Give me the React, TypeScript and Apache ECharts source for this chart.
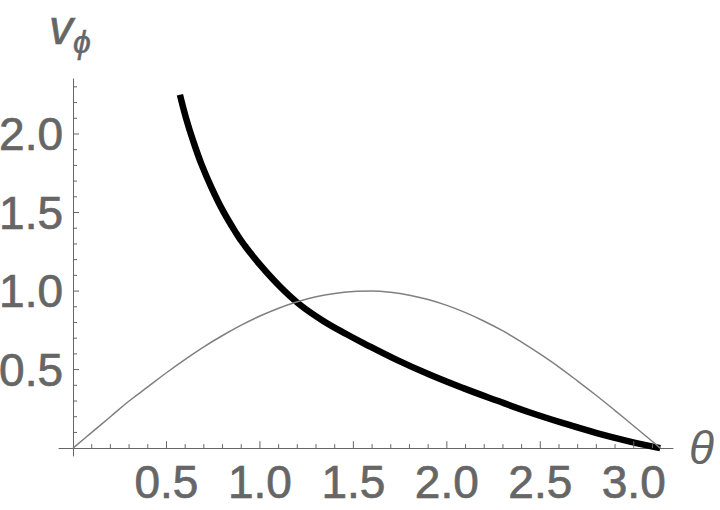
import React, { useEffect, useRef } from "react";
import * as echarts from "echarts";

// thin gray curve
const grayTheta = [0, 0.1, 0.2, 0.3, 0.4, 0.5, 0.6, 0.7, 0.8, 0.9, 1.0, 1.1, 1.2, 1.3, 1.4, 1.5, 1.6, 1.7, 1.8, 1.9, 2.0, 2.1, 2.2, 2.3, 2.4, 2.5, 2.6, 2.7, 2.8, 2.9, 3.0, 3.1, 3.1416];
const grayValues = [0, 0.1, 0.2, 0.3, 0.39, 0.48, 0.565, 0.645, 0.717, 0.783, 0.841, 0.891, 0.932, 0.964, 0.985, 0.997, 1.0, 0.992, 0.974, 0.946, 0.909, 0.863, 0.808, 0.746, 0.675, 0.598, 0.516, 0.427, 0.335, 0.239, 0.141, 0.042, 0];

// thick black curve
const blackTheta = [0.572, 0.605, 0.643, 0.688, 0.742, 0.804, 0.875, 0.911, 1.0, 1.107, 1.214, 1.339, 1.464, 1.553, 1.732, 1.91, 2.088, 2.267, 2.445, 2.623, 2.802, 2.98, 3.1416];
const blackValues = [2.25, 2.1, 1.955, 1.805, 1.656, 1.507, 1.365, 1.302, 1.168, 1.029, 0.913, 0.81, 0.725, 0.669, 0.562, 0.467, 0.382, 0.303, 0.227, 0.159, 0.096, 0.042, 0];

// ticks
const xMajorTicks = [0.5, 1.0, 1.5, 2.0, 2.5, 3.0];
const xTickLabels = ["0.5", "1.0", "1.5", "2.0", "2.5", "3.0"];
const xMinorTicks = [0.1, 0.2, 0.3, 0.4, 0.6, 0.7, 0.8, 0.9, 1.1, 1.2, 1.3, 1.4, 1.6, 1.7, 1.8, 1.9, 2.1, 2.2, 2.3, 2.4, 2.6, 2.7, 2.8, 2.9, 3.1];
const yMajorTicks = [0.5, 1.0, 1.5, 2.0];
const yTickLabels = ["0.5", "1.0", "1.5", "2.0"];
const yMinorTicks = [0.1, 0.2, 0.3, 0.4, 0.6, 0.7, 0.8, 0.9, 1.1, 1.2, 1.3, 1.4, 1.6, 1.7, 1.8, 1.9, 2.1, 2.2, 2.3];

const X_MIN = -0.075;
const X_MAX = 3.21;
const Y_MIN = -0.05;
const Y_MAX = 2.35;

const GRAY = "#666666";
const FONT = "'Liberation Sans', Arial, sans-serif";
const LABEL_SIZE = 46;

export default function App() {
  const ref = useRef<HTMLDivElement>(null);

  useEffect(() => {
    if (!ref.current) return;
    const chart = echarts.init(ref.current, undefined, { renderer: "svg" });

    const xTickData = [
      ...xMajorTicks.map((v) => [v, 0, 1]),
      ...xMinorTicks.map((v) => [v, 0, 0]),
    ];
    const yTickData = [
      ...yMajorTicks.map((v) => [0, v, 1]),
      ...yMinorTicks.map((v) => [0, v, 0]),
    ];

    const labelStyle = {
      fill: GRAY,
      fontSize: LABEL_SIZE,
      fontFamily: FONT,
      stroke: GRAY,
      lineWidth: 0.7,
    };

    const option: any = {
      animation: false,
      backgroundColor: "#ffffff",
      grid: { left: 59, top: 79, width: 614, height: 377, containLabel: false },
      xAxis: {
        type: "value",
        min: X_MIN,
        max: X_MAX,
        axisLine: { show: true, onZero: true, lineStyle: { color: GRAY, width: 1 } },
        axisTick: { show: false },
        axisLabel: { show: false },
        splitLine: { show: false },
        name: "θ",
        nameLocation: "end",
        nameGap: 16,
        nameTextStyle: {
          color: GRAY,
          fontSize: 46,
          fontStyle: "italic",
          fontFamily: FONT,
          verticalAlign: "middle",
        },
      },
      yAxis: {
        type: "value",
        min: Y_MIN,
        max: Y_MAX,
        axisLine: { show: true, onZero: true, lineStyle: { color: GRAY, width: 1 } },
        axisTick: { show: false },
        axisLabel: { show: false },
        splitLine: { show: false },
      },
      graphic: [
        {
          type: "text",
          x: 49,
          y: 27,
          style: {
            text: "v",
            fill: GRAY,
            fontSize: 48,
            fontStyle: "italic",
            fontFamily: FONT,
            align: "left",
            verticalAlign: "middle",
            stroke: GRAY,
            lineWidth: 0.6,
          },
        },
        {
          type: "text",
          x: 73,
          y: 42,
          style: {
            text: "ϕ",
            fill: GRAY,
            fontSize: 32,
            fontStyle: "italic",
            fontFamily: FONT,
            align: "left",
            verticalAlign: "middle",
            stroke: GRAY,
            lineWidth: 0.5,
          },
        },
      ],
      series: [
        {
          type: "line",
          data: blackTheta.map((t, i) => [t, blackValues[i]]),
          smooth: 0.4,
          showSymbol: false,
          symbol: "none",
          lineStyle: { color: "#000000", width: 6.5, cap: "butt" },
          z: 2,
          silent: true,
        },
        {
          type: "line",
          data: grayTheta.map((t, i) => [t, grayValues[i]]),
          smooth: 0.4,
          showSymbol: false,
          symbol: "none",
          lineStyle: { color: "#808080", width: 1.5 },
          z: 3,
          silent: true,
        },
        {
          type: "custom",
          coordinateSystem: "cartesian2d",
          silent: true,
          z: 4,
          data: xTickData,
          renderItem: (params: any, api: any) => {
            const v = api.value(0);
            const major = api.value(2) === 1;
            const p = api.coord([v, 0]);
            const children: any[] = [
              {
                type: "line",
                shape: { x1: p[0], y1: p[1], x2: p[0], y2: p[1] - (major ? 7 : 4) },
                style: { stroke: GRAY, lineWidth: 1 },
              },
            ];
            if (major) {
              const idx = xMajorTicks.indexOf(v);
              children.push({
                type: "text",
                x: p[0],
                y: p[1] + 34,
                style: {
                  ...labelStyle,
                  text: xTickLabels[idx],
                  align: "center",
                  verticalAlign: "middle",
                },
              });
            }
            return { type: "group", children };
          },
        },
        {
          type: "custom",
          coordinateSystem: "cartesian2d",
          silent: true,
          z: 4,
          data: yTickData,
          renderItem: (params: any, api: any) => {
            const v = api.value(1);
            const major = api.value(2) === 1;
            const p = api.coord([0, v]);
            const children: any[] = [
              {
                type: "line",
                shape: { x1: p[0], y1: p[1], x2: p[0] + (major ? 6 : 4), y2: p[1] },
                style: { stroke: GRAY, lineWidth: 1 },
              },
            ];
            if (major) {
              const idx = yMajorTicks.indexOf(v);
              children.push({
                type: "text",
                x: p[0] - 10,
                y: p[1],
                style: {
                  ...labelStyle,
                  text: yTickLabels[idx],
                  align: "right",
                  verticalAlign: "middle",
                },
              });
            }
            return { type: "group", children };
          },
        },
      ],
    };

    chart.setOption(option);
    return () => {
      chart.dispose();
    };
  }, []);

  return (
    <div
      ref={ref}
      style={{ position: "fixed", left: 0, top: 0, width: 720, height: 510, background: "#fff" }}
    />
  );
}
